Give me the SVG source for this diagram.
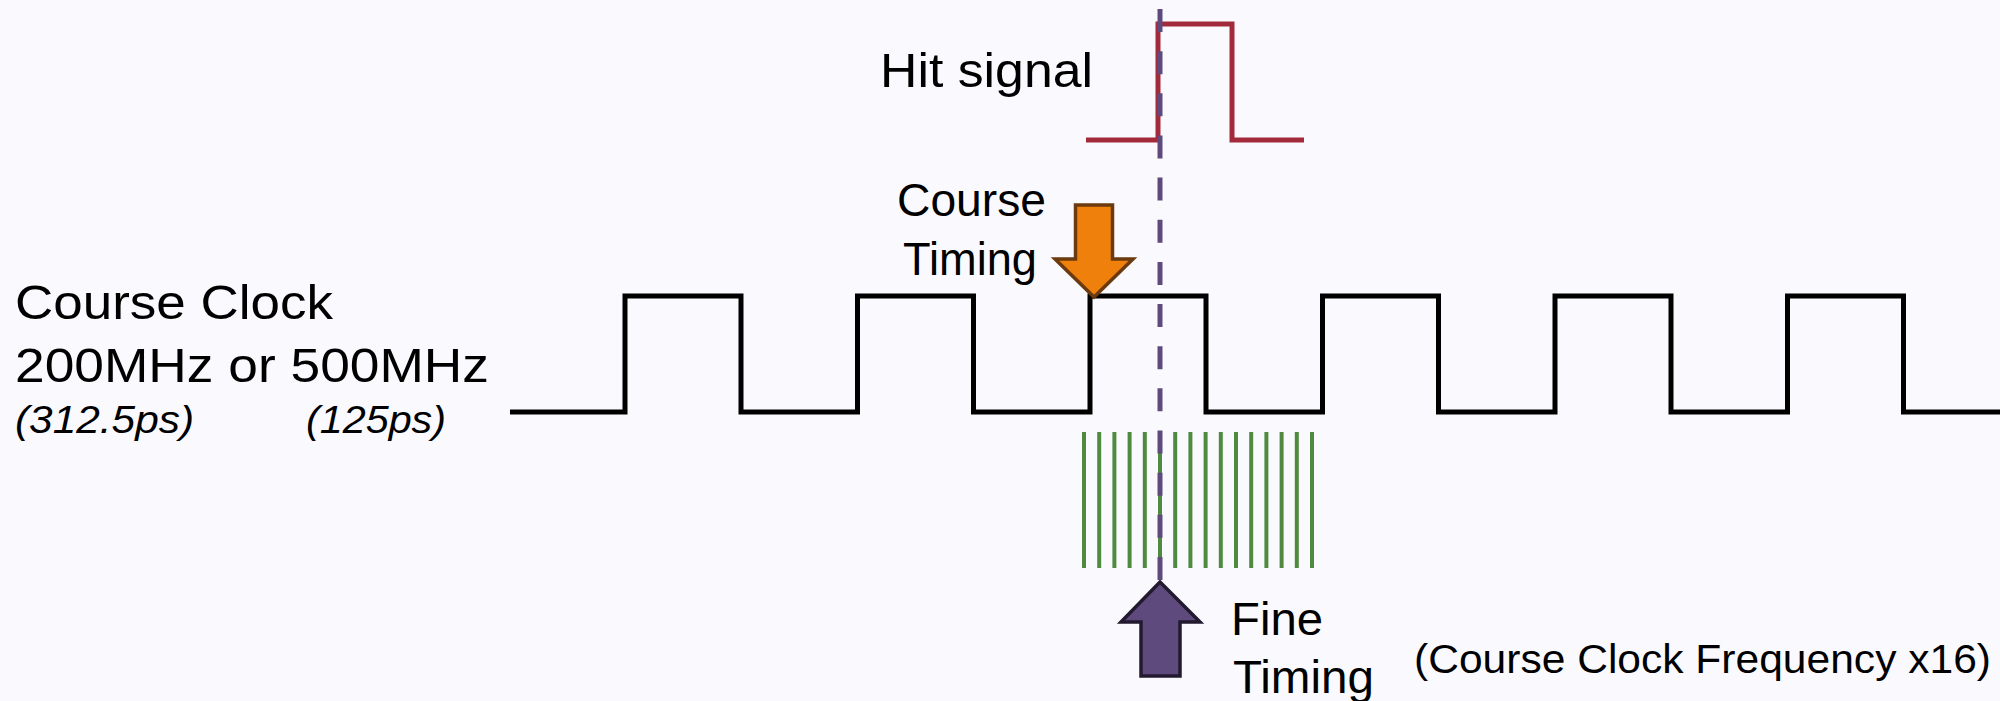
<svg xmlns="http://www.w3.org/2000/svg" width="2000" height="701" viewBox="0 0 2000 701">
<style>
text{font-family:"Liberation Sans",Arial,sans-serif;fill:#000}
.big{font-size:49px}
.mid{font-size:47px}
.it{font-size:38px;font-style:italic}
.note{font-size:40px}
.clk{fill:none;stroke:#000;stroke-width:5;stroke-linejoin:miter}
.hit{fill:none;stroke:#a22a3b;stroke-width:5}
.fine{stroke:#4f8a40;stroke-width:4}
.dash{stroke:#5e4a7c;stroke-width:5;stroke-dasharray:23 19.15}
</style>
<rect width="2000" height="701" fill="#fafafe"/>
<g id="labels">
<text class="big" x="15" y="319" textLength="318" lengthAdjust="spacingAndGlyphs">Course Clock</text>
<text class="big" x="15" y="382" textLength="474" lengthAdjust="spacingAndGlyphs">200MHz or 500MHz</text>
<text class="it" x="15" y="433" textLength="179" lengthAdjust="spacingAndGlyphs">(312.5ps)</text>
<text class="it" x="306" y="433" textLength="140" lengthAdjust="spacingAndGlyphs">(125ps)</text>
<text class="note" x="1414" y="673" textLength="577" lengthAdjust="spacingAndGlyphs">(Course Clock Frequency x16)</text>
</g>
<g id="course-clock">
<path class="clk" d="M510,412 H625 V296 H741 V412 H857.5 V296 H973.5 V412 H1090 V296 H1206 V412 H1322.5 V296 H1438.5 V412 H1555 V296 H1671 V412 H1787.5 V296 H1903.5 V412 H2000"/>
</g>
<g id="hit-signal">
<path class="hit" d="M1086,140 H1158 V24 H1232 V140 H1304"/>
<text class="big" x="880" y="87" textLength="213" lengthAdjust="spacingAndGlyphs">Hit signal</text>
</g>
<g id="fine-clock">
<g class="fine">
<line x1="1084" y1="432" x2="1084" y2="568"/>
<line x1="1099.2" y1="432" x2="1099.2" y2="568"/>
<line x1="1114.4" y1="432" x2="1114.4" y2="568"/>
<line x1="1129.6" y1="432" x2="1129.6" y2="568"/>
<line x1="1144.8" y1="432" x2="1144.8" y2="568"/>
<line x1="1160" y1="432" x2="1160" y2="568"/>
<line x1="1175.2" y1="432" x2="1175.2" y2="568"/>
<line x1="1190.4" y1="432" x2="1190.4" y2="568"/>
<line x1="1205.6" y1="432" x2="1205.6" y2="568"/>
<line x1="1220.8" y1="432" x2="1220.8" y2="568"/>
<line x1="1236" y1="432" x2="1236" y2="568"/>
<line x1="1251.2" y1="432" x2="1251.2" y2="568"/>
<line x1="1266.4" y1="432" x2="1266.4" y2="568"/>
<line x1="1281.6" y1="432" x2="1281.6" y2="568"/>
<line x1="1296.8" y1="432" x2="1296.8" y2="568"/>
<line x1="1312" y1="432" x2="1312" y2="568"/>
</g>
</g>
<g id="connectors">
<line class="dash" x1="1160" y1="9" x2="1160" y2="580"/>
</g>
<g id="course-timing">
<path d="M1075.5,205 H1112.5 V259 H1133 L1094,297 L1055,259 H1075.5 Z" fill="#f0800c" stroke="#6b3a0e" stroke-width="3.5" stroke-linejoin="miter"/>
<text class="mid" x="897" y="216" textLength="149" lengthAdjust="spacingAndGlyphs">Course</text>
<text class="mid" x="903" y="275" textLength="134" lengthAdjust="spacingAndGlyphs">Timing</text>
</g>
<g id="fine-timing">
<path d="M1160,582 L1200,622 H1180 V676 H1141 V622 H1121 Z" fill="#5f4a7d" stroke="#231a30" stroke-width="3.5" stroke-linejoin="miter"/>
<text class="mid" x="1231" y="635" textLength="92" lengthAdjust="spacingAndGlyphs">Fine</text>
<text class="mid" x="1233" y="693" textLength="141" lengthAdjust="spacingAndGlyphs">Timing</text>
</g>
</svg>
